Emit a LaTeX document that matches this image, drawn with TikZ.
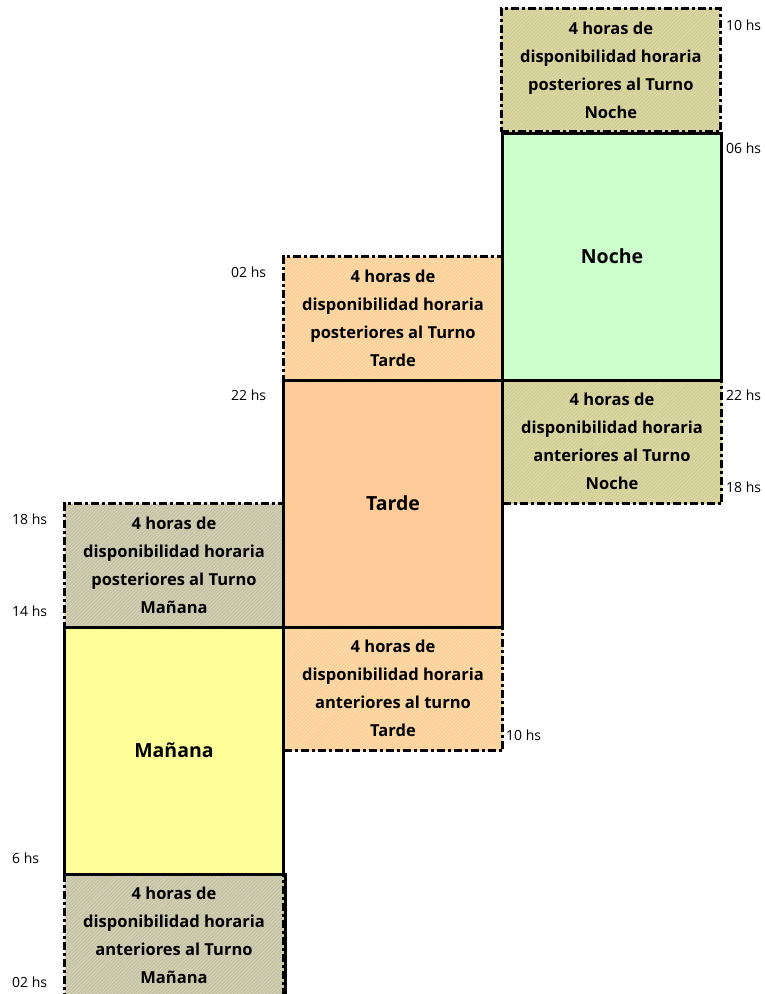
\documentclass[tikz,border=0pt]{standalone}
\usepackage{fontspec}
\setmainfont{Open Sans}
\usetikzlibrary{patterns.meta}
\definecolor{olivebase}{HTML}{DCD8A2}
\definecolor{oliveline}{HTML}{CCC894}
\definecolor{graybase}{HTML}{D2D0B4}
\definecolor{grayline}{HTML}{BEBB9E}
\definecolor{orangebase}{HTML}{FFDAA6}
\definecolor{orangeline}{HTML}{F6CC94}
\definecolor{nochegreen}{HTML}{CCFFCC}
\definecolor{tardeorange}{HTML}{FFCC99}
\definecolor{mananayellow}{HTML}{FFFF99}
\begin{document}
\begin{tikzpicture}[x=1pt,y=-1pt,
  cell/.style={rectangle, minimum width=219pt, minimum height=123.5pt, inner sep=0pt, align=center, anchor=north west},
  mainbox/.style={cell, minimum height=247pt, draw=black, line width=3pt, font=\fontsize{19.5}{24}\selectfont\bfseries},
  extra/.style={cell, draw=black, line width=3pt, dash pattern=on 8pt off 3pt on 3pt off 3pt, font=\fontsize{16.5}{28}\selectfont\bfseries},
  olivehatch/.style={preaction={fill=olivebase}, pattern={Lines[angle=45,distance=2.5pt,line width=0.7pt]}, pattern color=oliveline},
  grayhatch/.style={preaction={fill=graybase}, pattern={Lines[angle=45,distance=2.5pt,line width=0.7pt]}, pattern color=grayline},
  orangehatch/.style={preaction={fill=orangebase}, pattern={Lines[angle=45,distance=2.5pt,line width=0.7pt]}, pattern color=orangeline},
  solidedge/.style={draw=black, line width=3pt},
  hs/.style={anchor=west, inner sep=0pt, font=\fontsize{14}{16}\selectfont},
]
\useasboundingbox (0,0) rectangle (765,994);
\clip (0,0) rectangle (765,994);
% extra availability boxes
\node[extra, olivehatch] (nt) at (501,8) {4 horas de\\disponibilidad horaria\\posteriores al Turno\\Noche};
\node[extra, olivehatch] (nb) at (501,378.5) {4 horas de\\disponibilidad horaria\\anteriores al Turno\\Noche};
\node[extra, orangehatch] (tt) at (282,255) {4 horas de\\disponibilidad horaria\\posteriores al Turno\\Tarde};
\node[extra, orangehatch] (tb) at (282,625.5) {4 horas de\\disponibilidad horaria\\anteriores al turno\\Tarde};
\node[extra, grayhatch] (mt) at (63,502) {4 horas de\\disponibilidad horaria\\posteriores al Turno\\Mañana};
\node[extra, grayhatch] (mb) at (63,872.5) {4 horas de\\disponibilidad horaria\\anteriores al Turno\\Mañana};
\draw[solidedge] (mb.north east) -- (mb.south east);
% main shifts
\node[mainbox, fill=nochegreen] (noche) at (501,131.5) {Noche};
\node[mainbox, fill=tardeorange] (tarde) at (282,378.5) {Tarde};
\node[mainbox, fill=mananayellow] (manana) at (63,625.5) {Mañana};
% hour labels
\node[hs] (h10a) at (726,25) {10 hs};
\node[hs] (h06) at (726,148) {06 hs};
\node[hs] (h02a) at (231,272) {02 hs};
\node[hs] (h22a) at (231,395) {22 hs};
\node[hs] (h22b) at (726,395) {22 hs};
\node[hs] (h18a) at (726,487) {18 hs};
\node[hs] (h18b) at (12,519) {18 hs};
\node[hs] (h14) at (12,611) {14 hs};
\node[hs] (h10b) at (506,735) {10 hs};
\node[hs] (h6) at (12,858) {6 hs};
\node[hs] (h02b) at (12,982) {02 hs};
\end{tikzpicture}
\end{document}
